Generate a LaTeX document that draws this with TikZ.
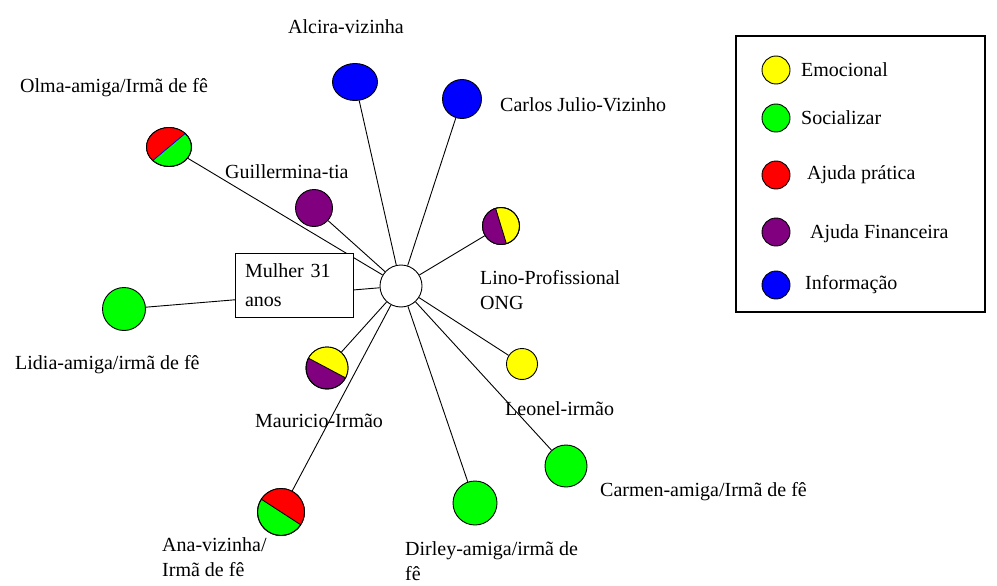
\documentclass[tikz,border=0pt]{standalone}
\usepackage{fontspec}
\setmainfont{Liberation Serif}
\usetikzlibrary{shapes.geometric,calc}
\definecolor{emocional}{RGB}{255,255,0}
\definecolor{socializar}{RGB}{0,255,0}
\definecolor{pratica}{RGB}{255,0,0}
\definecolor{financeira}{RGB}{128,0,128}
\definecolor{informacao}{RGB}{0,0,255}
\tikzset{%
  % contacts
  contact/.style={circle, draw, line width=0.9pt, inner sep=0pt, minimum size=#1},
  contact/.default=40pt,
  oval/.style={ellipse, draw, line width=0.9pt, inner sep=0pt},
  ego/.style={contact=42pt, fill=white},
  person/.style={draw, fill=white, line width=1pt, text width=98pt, inner xsep=10pt,
    minimum height=64pt, align=left, font=\fontsize{20}{29}\selectfont},
  legendbox/.style={draw, line width=1.5pt, minimum width=249pt, minimum height=276pt},
  key/.style={contact=28pt},
  % texts and edges
  lbl/.style={anchor=west, inner sep=0pt, align=left, font=\fontsize{20}{25}\selectfont},
  tie/.style={line width=0.9pt},
}
% half of a contact in a second colour
% #1 = node, #2 = colour, #3 = start angle, #4 = x radius, #5 = y radius, #6 = divider colour
\newcommand{\halffill}[6]{%
  \fill[#2] (#1.center) ++(#3:#4 and #5) arc[start angle=#3, delta angle=180, x radius=#4, y radius=#5] -- cycle;
  \draw[line width=0.8pt, #6] ($(#1.center)+(#3:#4 and #5)$) -- ($(#1.center)+(#3+180:#4 and #5)$);
  \draw[line width=0.9pt] (#1.center) ellipse[x radius=#4, y radius=#5];
}

\begin{document}
\begin{tikzpicture}[x=1pt, y=-1pt]
  \useasboundingbox (0,0) rectangle (997,586);

  % Centre
  \node[ego] (ego) at (401,286) {};

  % Contacts
  \node[oval, fill=informacao, minimum width=45pt, minimum height=37pt] (alcira) at (355,82) {};
  \node[contact=39pt, fill=informacao] (carlos) at (462,99) {};
  \node[oval, fill=socializar, minimum width=45pt, minimum height=39pt] (olma) at (169,147) {};
  \node[contact=37pt, fill=financeira] (guillermina) at (314,208) {};
  \node[contact=37pt, fill=emocional] (lino) at (501,226) {};
  \node[contact=43pt, fill=socializar] (lidia) at (124,309) {};
  \node[contact=31pt, fill=emocional] (leonel) at (522,364) {};
  \node[contact=42pt, fill=financeira] (mauricio) at (327,368) {};
  \node[contact=42pt, fill=socializar] (carmen) at (566,466) {};
  \node[contact=44pt, fill=socializar] (dirley) at (475,503) {};
  \node[contact=47pt, fill=socializar] (ana) at (281,512) {};

  \halffill{olma}{pratica}{136}{22.5}{19.5}{informacao}
  \halffill{lino}{financeira}{73}{18.5}{18.5}{black}
  \halffill{mauricio}{emocional}{208}{21}{21}{black}
  \halffill{ana}{pratica}{213}{23.5}{23.5}{black}

  % Links
  \draw[tie] (alcira) -- (ego);
  \draw[tie] (carlos) -- (ego);
  \draw[tie] (olma) -- (ego);
  \draw[tie] (guillermina) -- (ego);
  \draw[tie] (lino) -- (ego);
  \draw[tie] (lidia) -- (ego);
  \draw[tie] (leonel) -- (ego);
  \draw[tie] (mauricio) -- (ego);
  \draw[tie] (carmen) -- (ego);
  \draw[tie] (dirley) -- (ego);
  \draw[tie] (ana) -- (ego);

  % Person
  \node[person] (mulher) at (294,285) {Mulher 31\\anos};

  % Labels
  \node[lbl] (lalcira) at (288,27) {Alcira-vizinha};
  \node[lbl] (lolma) at (20,88) {Olma-amiga/Irmã de fê};
  \node[lbl] (lcarlos) at (500,105) {Carlos Julio-Vizinho};
  \node[lbl] (lguillermina) at (225,172) {Guillermina-tia};
  \node[lbl] (llino) at (480,290) {Lino-Profissional\\ONG};
  \node[lbl] (llidia) at (15,365) {Lidia-amiga/irmã de fê};
  \node[lbl] (lmauricio) at (255,421) {Mauricio-Irmão};
  \node[lbl] (lleonel) at (505,409) {Leonel-irmão};
  \node[lbl] (lcarmen) at (600,492) {Carmen-amiga/Irmã de fê};
  \node[lbl] (lana) at (162,557) {Ana-vizinha/\\Irmã de fê};
  \node[lbl] (ldirley) at (405,561) {Dirley-amiga/irmã de\\fê};

  % Legend
  \node[legendbox] (legend) at (860.5,174) {};
  \node[key, fill=emocional] (kemo) at (776,70) {};
  \node[key, fill=socializar] (ksoc) at (776,118) {};
  \node[key, fill=pratica] (kpra) at (776,175) {};
  \node[key, fill=financeira] (kfin) at (776,232) {};
  \node[key, fill=informacao] (kinf) at (776,285) {};
  \node[lbl] (lemo) at (801,70) {Emocional};
  \node[lbl] (lsoc) at (801,118) {Socializar};
  \node[lbl] (lpra) at (807,175) {Ajuda prática};
  \node[lbl] (lfin) at (810,234) {Ajuda Financeira};
  \node[lbl] (linf) at (805,285) {Informação};
\end{tikzpicture}
\end{document}
